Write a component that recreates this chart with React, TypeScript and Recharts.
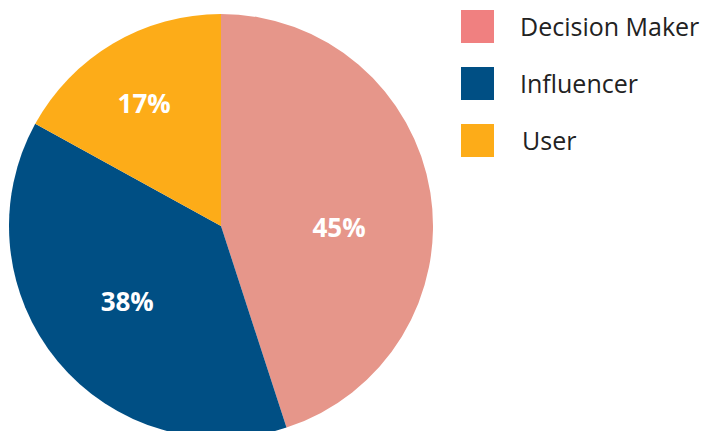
import React from "react";
import { PieChart, Pie, Cell } from "recharts";

const categories = ["Decision Maker", "Influencer", "User"];
const values = [45, 38, 17];
const sliceColors = ["#E6968A", "#004F84", "#FDAC18"];
const legendColors = ["#F08080", "#004F84", "#FDAC18"];
// label placement (polar, degrees counter-clockwise from 3 o'clock) — styling only
const labelAngle = [-0.5, 218.6, 122];
const labelRadiusFactor = [0.557, 0.566, 0.684];

const data = categories.map((name, i) => ({ name, value: values[i] }));

const RAD = Math.PI / 180;

const renderLabel = (props: any) => {
  const { cx, cy, outerRadius, index, value } = props;
  const r = outerRadius * labelRadiusFactor[index];
  const a = labelAngle[index];
  const x = cx + r * Math.cos(a * RAD);
  const y = cy - r * Math.sin(a * RAD);
  return (
    <text
      x={x}
      y={y}
      fill="#ffffff"
      textAnchor="middle"
      dominantBaseline="central"
      fontFamily="'Open Sans', sans-serif"
      fontWeight={700}
      fontSize={26}
    >
      {`${value}%`}
    </text>
  );
};

export default function App() {
  return (
    <div style={{ position: "absolute", left: 0, top: 0, width: 704, height: 431 }}>
      <PieChart width={704} height={431} margin={{ top: 0, right: 0, bottom: 0, left: 0 }}>
        <Pie
          data={data}
          dataKey="value"
          nameKey="name"
          cx={221}
          cy={226}
          outerRadius={212}
          startAngle={90}
          endAngle={-270}
          stroke="none"
          label={renderLabel}
          labelLine={false}
          isAnimationActive={false}
        >
          {data.map((d, i) => (
            <Cell key={d.name} fill={sliceColors[i]} />
          ))}
        </Pie>
      </PieChart>
      <div
        style={{
          position: "absolute",
          left: 461,
          top: 10,
          fontFamily: "'Open Sans', sans-serif",
        }}
      >
        {categories.map((c, i) => (
          <div
            key={c}
            style={{ display: "flex", alignItems: "center", height: 33, marginBottom: 24 }}
          >
            <div style={{ width: 33, height: 33, background: legendColors[i] }} />
            <span
              style={{
                marginLeft: i === 2 ? 28 : 26,
                fontSize: 25,
                color: "#222222",
                whiteSpace: "nowrap",
                lineHeight: "33px",
              }}
            >
              {c}
            </span>
          </div>
        ))}
      </div>
    </div>
  );
}
